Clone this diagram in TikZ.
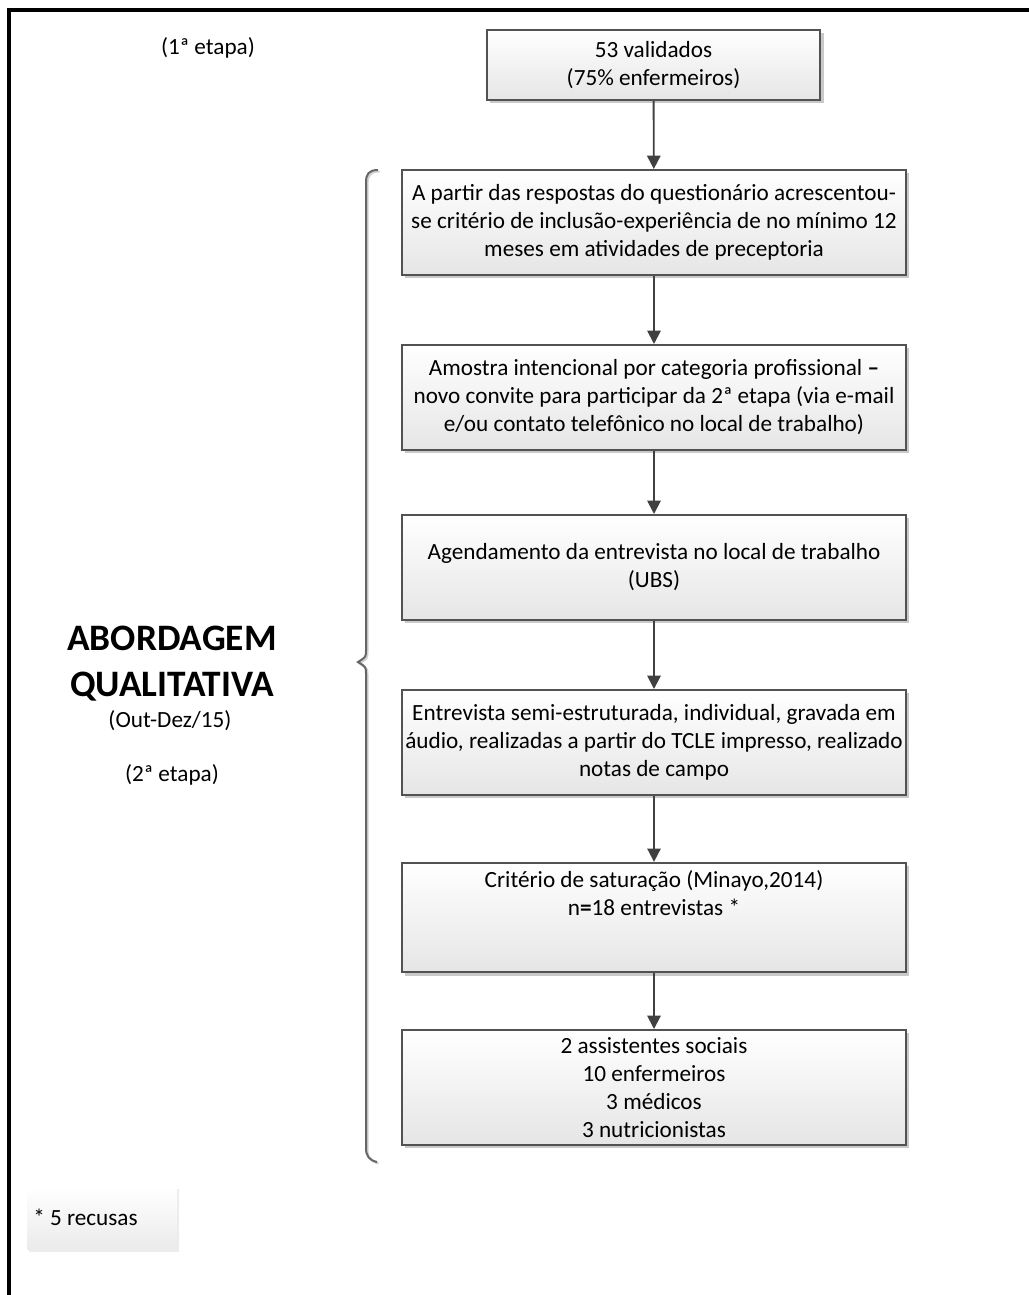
\documentclass[tikz,border=0pt]{standalone}
\usepackage{fontspec}
\setmainfont{Carlito}
\usetikzlibrary{shadows,arrows.meta}
\begin{document}
\begin{tikzpicture}[x=0.75pt,y=-0.75pt,
  box/.style={draw=black!68, line width=1.5pt, top color=white, bottom color=black!10,
    drop shadow={shadow xshift=2.5pt, shadow yshift=-2.5pt, opacity=0.3, fill=black!70},
    align=center, font=\fontsize{17.4}{21}\selectfont, text=black, inner sep=0pt},
  conn/.style={draw=black!75, line width=1.4pt, -{Triangle[length=10pt,width=10pt]}},
  lbl/.style={font=\fontsize{17.4}{21}\selectfont, text=black, align=center, inner sep=0pt},
  brace/.style={draw=black!60, line width=1.5pt},
]
\useasboundingbox (0,0) rectangle (1028,1295);
% frame
\draw[line width=2.4pt, black] (9,1300) -- (9,10) -- (1035,10);

% boxes
\node[box, minimum width=250pt, minimum height=52.5pt] (b0) at (653.5,65)
  {53 validados\\(75\% enfermeiros)};
\node[box, minimum width=378pt, minimum height=78.75pt] (b1) at (654,222.5)
  {A partir das respostas do questionário acrescentou-\\se critério de inclusão-experiência de no mínimo 12\\meses em atividades de preceptoria};
\node[box, minimum width=378pt, minimum height=78.75pt] (b2) at (654,397.5)
  {Amostra intencional por categoria profissional \textbf{–}\\novo convite para participar da 2ª etapa (via e-mail\\e/ou contato telefônico no local de trabalho)};
\node[box, minimum width=378pt, minimum height=78.75pt] (b3) at (654,567.5)
  {Agendamento da entrevista no local de trabalho\\(UBS)};
\node[box, minimum width=378pt, minimum height=78.75pt] (b4) at (654,742.5)
  {Entrevista semi-estruturada, individual, gravada em\\áudio, realizadas a partir do TCLE impresso, realizado\\notas de campo};
\node[box, minimum width=378pt, minimum height=82pt] (b5) at (654,917.5)
  {Critério de saturação (Minayo,2014)\\n\textbf{=}18 entrevistas *\\[16pt]\mbox{}};
\node[box, minimum width=378pt, minimum height=86.25pt] (b6) at (654,1087.5)
  {2 assistentes sociais\\10 enfermeiros\\3 médicos\\3 nutricionistas};

% arrows
\draw[conn] (b0) -- (b1);
\draw[conn] (b1) -- (b2);
\draw[conn] (b2) -- (b3);
\draw[conn] (b3) -- (b4);
\draw[conn] (b4) -- (b5);
\draw[conn] (b5) -- (b6);

% brace (soft shadow line, then the brace)
\draw[draw=black!18, line width=1.5pt] (379.5,171.5) .. controls (370.5,171.5) and (367.5,175.5) .. (367.5,183.5) -- (367.5,651.5)
  .. controls (367.5,658.5) .. (359.5,663.5) .. controls (367.5,668.5) .. (367.5,675.5) -- (367.5,1149.5)
  .. controls (367.5,1157.5) and (370.5,1161.5) .. (378.5,1163.5);
\draw[brace] (378,170) .. controls (369,170) and (366,174) .. (366,182) -- (366,650)
  .. controls (366,657) .. (358,662) .. controls (366,667) .. (366,674) -- (366,1148)
  .. controls (366,1156) and (369,1160) .. (377,1162);

% left labels
\node[lbl] (e1) at (208,48) {(1ª etapa)};
\node[font=\bfseries\fontsize{28}{34.5}\selectfont, text=black, align=center, inner sep=0pt] (ab) at (172,664)
  {ABORDAGEM\\QUALITATIVA};
\node[lbl] (od) at (170,721) {(Out-Dez/15)};
\node[lbl] (e2) at (172,775) {(2ª etapa)};

% footnote
\node[top color=white, bottom color=black!8, minimum width=112.5pt, minimum height=47pt, inner sep=0pt,
  drop shadow={shadow xshift=1.5pt, shadow yshift=-1.5pt, opacity=0.15}] (fn) at (102,1218.5) {};
\node[lbl, anchor=west] (fnt) at (33,1217) {* 5 recusas};
\end{tikzpicture}
\end{document}
